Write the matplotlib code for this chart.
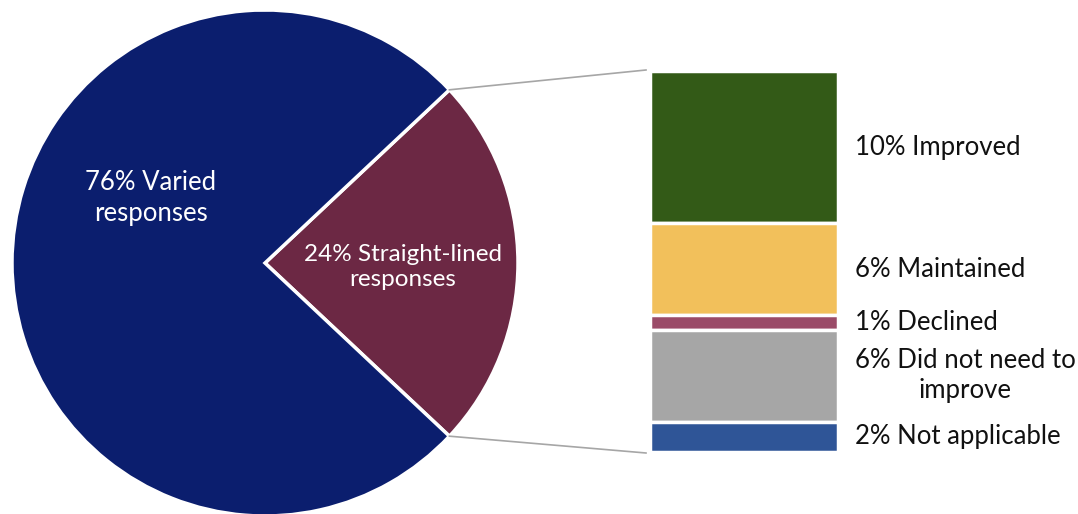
import numpy as np
import matplotlib.pyplot as plt

plt.rcParams['font.family'] = ['Lato', 'DejaVu Sans']

# overall split of responses
pie_labels = ['24% Straight-lined\nresponses', '76% Varied\nresponses']
pie_values = [24, 76]
pie_colors = ['#6c2844', '#0b1e6e']

# breakdown of the straight-lined group (top to bottom)
bar_labels = ['10% Improved', '6% Maintained', '1% Declined',
              '6% Did not need to\nimprove', '2% Not applicable']
bar_values = [10, 6, 1, 6, 2]
bar_colors = ['#335a17', '#f2c05b', '#9b4b68', '#a6a6a6', '#2f5597']

fig = plt.figure(figsize=(10.78, 5.14), dpi=100)
ax = fig.add_axes([0, 0, 1, 1])

cx, cy, r = 265, 263, 253
half = pie_values[0] / 100 * 360 / 2
wedges, texts = ax.pie(pie_values, colors=pie_colors, startangle=-half,
                       counterclock=True, center=(cx, cy), radius=r,
                       wedgeprops=dict(edgecolor='white', linewidth=2.5),
                       frame=True)
ax.set_xlim(0, 1078)
ax.set_ylim(514, 0)
ax.set_aspect('equal')
ax.axis('off')

ax.text(403, 267, pie_labels[0], color='white', fontsize=17.5,
        ha='center', va='center', linespacing=1.25)
ax.text(151, 198, pie_labels[1], color='white', fontsize=18.5,
        ha='center', va='center', linespacing=1.25)

# stacked bar, scaled so the full stack spans the bar height
bx0, bx1, top, bottom = 650, 838, 71, 452
scale = (bottom - top) / sum(bar_values)
y = top
for lab, v, c in zip(bar_labels, bar_values, bar_colors):
    h = v * scale
    ax.bar((bx0 + bx1) / 2, h, width=bx1 - bx0, bottom=y, color=c,
           edgecolor='white', linewidth=2.5)
    ax.text(855, y + h / 2, lab, fontsize=18.5, color='#111111',
            ha='left', va='center', multialignment='center', linespacing=1.25)
    y += h

# connector lines from the wedge edge to the bar
a = np.radians(half)
ax.plot([cx + r * np.cos(a), bx0 - 4], [cy - r * np.sin(a), top - 1],
        color='#a6a6a6', linewidth=1.2)
ax.plot([cx + r * np.cos(a), bx0 - 4], [cy + r * np.sin(a), bottom + 1],
        color='#a6a6a6', linewidth=1.2)

fig.savefig('out.png', dpi=100)
